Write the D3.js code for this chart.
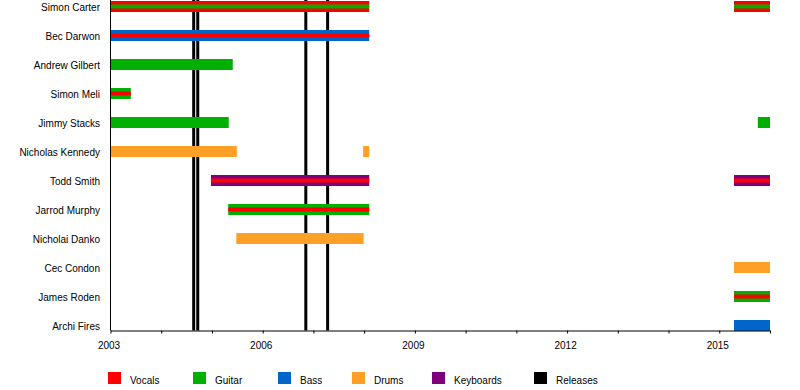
<!DOCTYPE html>
<html>
<head>
<meta charset="utf-8">
<script src="https://cdn.jsdelivr.net/npm/d3@7"></script>
<style>
  html, body { margin: 0; padding: 0; background: #fff; }
  svg { display: block; font-family: "Liberation Sans", Arial, Helvetica, sans-serif; }
</style>
</head>
<body>
<svg id="chart" width="800" height="390"></svg>
<script>
// ---- data ----
const members = ["Simon Carter", "Bec Darwon", "Andrew Gilbert", "Simon Meli", "Jimmy Stacks",
  "Nicholas Kennedy", "Todd Smith", "Jarrod Murphy", "Nicholai Danko", "Cec Condon",
  "James Roden", "Archi Fires"];
const roles = ["Vocals", "Guitar", "Bass", "Drums", "Keyboards", "Releases"];
const roleColors = ["#ff0000", "#00b000", "#0066cc", "#ffa026", "#7d007d", "#000000"];
// [member, start, end, main role, inner role]
const periods = [
  ["Simon Carter", 2003.0, 2008.10, "Vocals", "Guitar"],
  ["Simon Carter", 2015.29, 2016.0, "Vocals", "Guitar"],
  ["Bec Darwon", 2003.0, 2008.10, "Bass", "Vocals"],
  ["Andrew Gilbert", 2003.0, 2005.41, "Guitar", null],
  ["Simon Meli", 2003.0, 2003.40, "Guitar", "Vocals"],
  ["Jimmy Stacks", 2003.0, 2005.33, "Guitar", null],
  ["Jimmy Stacks", 2015.76, 2016.0, "Guitar", null],
  ["Nicholas Kennedy", 2003.0, 2005.49, "Drums", null],
  ["Nicholas Kennedy", 2007.98, 2008.10, "Drums", null],
  ["Todd Smith", 2004.98, 2008.10, "Keyboards", "Vocals"],
  ["Todd Smith", 2015.29, 2016.0, "Keyboards", "Vocals"],
  ["Jarrod Murphy", 2005.32, 2008.10, "Guitar", "Vocals"],
  ["Nicholai Danko", 2005.48, 2007.99, "Drums", null],
  ["Cec Condon", 2015.29, 2016.0, "Drums", null],
  ["James Roden", 2015.29, 2016.0, "Guitar", "Vocals"],
  ["Archi Fires", 2015.29, 2016.0, "Bass", null]
];
const releases = [2004.64, 2004.72, 2006.85, 2007.28];
const yearTicks = [2003, 2004, 2005, 2006, 2007, 2008, 2009, 2010, 2011, 2012, 2013, 2014, 2015, 2016];
const yearLabels = [2003, 2006, 2009, 2012, 2015];

// ---- layout ----
const svg = d3.select("#chart");
const color = d3.scaleOrdinal().domain(roles).range(roleColors);
const x = d3.scaleLinear().domain([2003, 2016]).range([110.5, 770]);
const y = d3.scalePoint().domain(members).range([6.5, 325.5]);
const axisY = 330.5;
const barH = 11, innerH = 4;

// release lines (behind bars)
svg.append("g").selectAll("line").data(releases).join("line")
  .attr("x1", d => x(d)).attr("x2", d => x(d))
  .attr("y1", 0).attr("y2", axisY)
  .attr("stroke", color("Releases")).attr("stroke-width", 3);

// bars
const bars = svg.append("g");
bars.selectAll("rect.main").data(periods).join("rect").attr("class", "main")
  .attr("x", d => x(d[1])).attr("width", d => x(d[2]) - x(d[1]))
  .attr("y", d => y(d[0]) - barH / 2).attr("height", barH)
  .attr("fill", d => color(d[3]));
bars.selectAll("rect.inner").data(periods.filter(d => d[4])).join("rect").attr("class", "inner")
  .attr("x", d => x(d[1])).attr("width", d => x(d[2]) - x(d[1]))
  .attr("y", d => y(d[0]) - innerH / 2).attr("height", innerH)
  .attr("fill", d => color(d[4]));

// member labels
svg.append("g").selectAll("text").data(members).join("text")
  .attr("x", 100).attr("y", d => y(d) + 4)
  .attr("text-anchor", "end").attr("font-size", 10).attr("fill", "#000")
  .text(d => d);

// vertical axis line
svg.append("line").attr("x1", 110.5).attr("x2", 110.5).attr("y1", 0).attr("y2", axisY)
  .attr("stroke", "#000").attr("stroke-width", 1);

// bottom axis
const axis = d3.axisBottom(x).tickValues(yearTicks)
  .tickFormat(d => yearLabels.includes(d) ? String(d) : "")
  .tickSizeInner(3).tickSizeOuter(0).tickPadding(8.5);
const gAxis = svg.append("g").attr("transform", `translate(0,${axisY})`).call(axis);
gAxis.selectAll("text").attr("font-size", 10).attr("dx", -2)
  .attr("font-family", "Liberation Sans, Arial, sans-serif").attr("fill", "#000");
gAxis.selectAll("line, path").attr("stroke", "#000");

// legend
const legendX = [108, 193, 278, 352, 432, 534];
const leg = svg.append("g").selectAll("g").data(roles).join("g")
  .attr("transform", (d, i) => `translate(${legendX[i]},372)`);
leg.append("rect").attr("width", 13).attr("height", 12).attr("fill", d => color(d));
leg.append("text").attr("x", 22).attr("y", 11.5).attr("font-size", 10).attr("fill", "#000").text(d => d);
</script>
</body>
</html>
